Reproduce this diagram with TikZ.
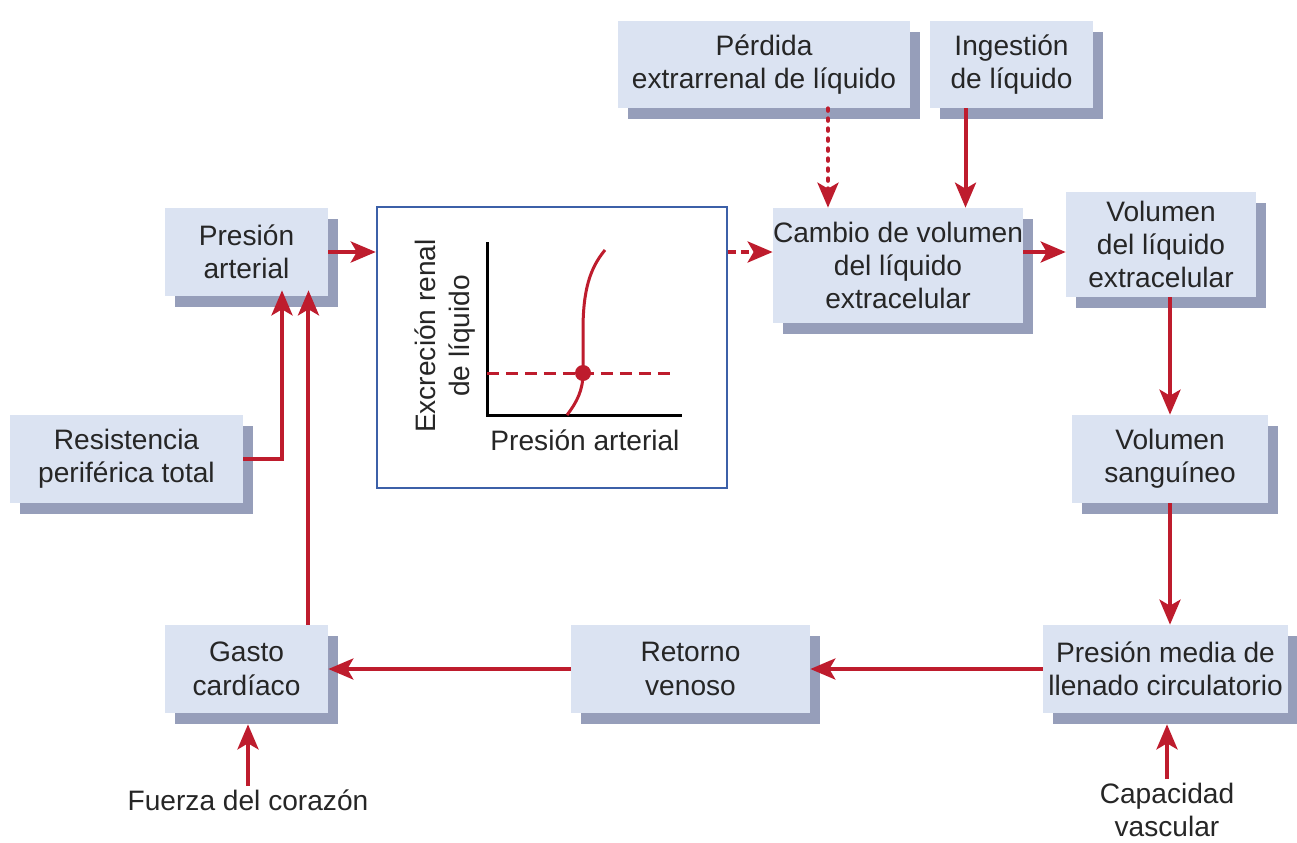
\documentclass[tikz,border=0pt]{standalone}
\usepackage{fontspec}
\setmainfont{Liberation Sans}
\usetikzlibrary{arrows.meta,shadows}
\definecolor{cajafondo}{RGB}{219,227,242}
\definecolor{cajasombra}{RGB}{150,158,186}
\definecolor{rojo}{RGB}{190,28,45}
\definecolor{marco}{RGB}{60,96,168}
\definecolor{texto}{RGB}{38,38,38}

\begin{document}
\begin{tikzpicture}[x=0.02cm, y=-0.02cm,
    caja/.style={fill=cajafondo, inner sep=0pt, align=center, text=texto,
        font=\fontsize{16}{19}\selectfont,
        general shadow={fill=cajasombra, shadow xshift=0.2cm, shadow yshift=-0.22cm}},
    etiqueta/.style={text=texto, align=center, inner sep=2pt, font=\fontsize{16}{19}\selectfont},
    flecha/.style={draw=rojo, line width=0.08cm,
        -{Stealth[length=0.5cm, width=0.42cm, inset=0.12cm]}}]
            \useasboundingbox (0,0) rectangle (1297,842);

            % Entradas
            \node[caja, minimum width=5.84cm, minimum height=1.74cm] (perdida) at (764,64.5) {Pérdida\\extrarrenal de líquido};
            \node[caja, minimum width=3.26cm, minimum height=1.74cm] (ingestion) at (1011.5,64.5) {Ingestión\\de líquido};

            % Fila superior
            \node[caja, minimum width=3.26cm, minimum height=1.76cm] (presion) at (246.5,252) {Presión\\arterial};
            \node[draw=marco, line width=0.05cm, fill=white, minimum width=7cm, minimum height=5.62cm] (grafica) at (552,347.5) {};
            \node[caja, minimum width=4.9cm, minimum height=2.3cm] (cambio) at (898,265.5) {Cambio de volumen\\del líquido\\extracelular};
            \node[caja, minimum width=3.8cm, minimum height=2.1cm] (volecf) at (1161,244.5) {Volumen\\del líquido\\extracelular};

            % Curva renal
            \draw[line width=0.06cm] (487,242) -- (487,415) -- (682,415);
            \draw[rojo, line width=0.06cm, dash pattern=on 0.24cm off 0.14cm] (487,373) -- (670,373);
            \draw[rojo, line width=0.06cm] (567,415) .. controls (577,402) and (583,390) .. (583,373)
                -- (583,330) .. controls (583,290) and (590,268) .. (605,250);
            \fill[rojo] (583,373) circle (0.16cm);
            \node[etiqueta, rotate=90] (ejey) at (445,336) {Excreción renal\\de líquido};
            \node[etiqueta] (ejex) at (585,440) {Presión arterial};

            % Lado derecho y abajo
            \node[caja, minimum width=4.66cm, minimum height=1.76cm] (resistencia) at (126.5,459) {Resistencia\\periférica total};
            \node[caja, minimum width=3.92cm, minimum height=1.76cm] (volsang) at (1170,459) {Volumen\\sanguíneo};
            \node[caja, minimum width=4.9cm, minimum height=1.76cm] (llenado) at (1165.5,669) {Presión media de\\llenado circulatorio};
            \node[caja, minimum width=4.78cm, minimum height=1.76cm] (retorno) at (690.5,669) {Retorno\\venoso};
            \node[caja, minimum width=3.26cm, minimum height=1.76cm] (gasto) at (246.5,669) {Gasto\\cardíaco};
            \node[etiqueta] (fuerza) at (248,800) {Fuerza del corazón};
            \node[etiqueta] (capacidad) at (1167,810) {Capacidad\\vascular};

            % Flechas
            \draw[flecha] (presion.east) -- (presion.east -| grafica.west);
            \draw[flecha, dash pattern=on 0.16cm off 0.1cm] (presion.east -| grafica.east) -- (presion.east -| cambio.west);
            \draw[flecha, line cap=round, dash pattern=on 0.05cm off 0.15cm] ([xshift=1.28cm]perdida.south) -- ([xshift=1.28cm]perdida.south |- cambio.north);
            \draw[flecha] ([xshift=-0.92cm]ingestion.south) -- ([xshift=-0.92cm]ingestion.south |- cambio.north);
            \draw[flecha] (cambio.east |- presion.east) -- (volecf.west |- presion.east);
            \draw[flecha] (volsang.north |- volecf.south) -- (volsang.north);
            \draw[flecha] (volsang.south) -- (volsang.south |- llenado.north);
            \draw[flecha] (llenado.west) -- (retorno.east);
            \draw[flecha] (retorno.west) -- (gasto.east);
            \draw[flecha, shorten >=-0.12cm] ([xshift=1.24cm]gasto.north) -- ([xshift=1.24cm]presion.south);
            \draw[flecha, shorten >=-0.12cm] (resistencia.east) -| ([xshift=0.71cm]presion.south);
            \draw[flecha, shorten >=0.22cm] (fuerza.north) -- (fuerza.north |- gasto.south);
            \draw[flecha, shorten >=0.22cm] (capacidad.north) -- (capacidad.north |- llenado.south);
        \end{tikzpicture}
\end{document}
